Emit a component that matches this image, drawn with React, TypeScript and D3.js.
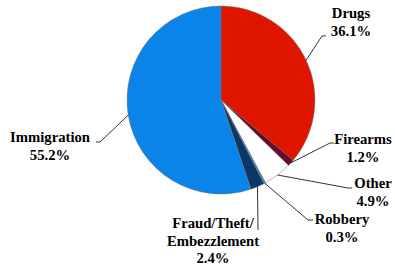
import React from "react";
import * as d3 from "d3";

const categories = ["Drugs", "Firearms", "Other", "Robbery", "Fraud/Theft/Embezzlement", "Immigration"];
const values = [36.1, 1.2, 4.9, 0.3, 2.4, 55.2];
const labelLines = [["Drugs", "36.1%"], ["Firearms", "1.2%"], ["Other", "4.9%"], ["Robbery", "0.3%"], ["Fraud/Theft/", "Embezzlement", "2.4%"], ["Immigration", "55.2%"]];
const colors = ["#e01500", "#6b0a2a", "#ffffff", "#3a8fc4", "#0a3668", "#0a84e8"];

// layout: elbow point, end of horizontal, text anchor x, first baseline
const layout = [
  { elbow: [322, 36], end: [326, 36], tx: 351, ty: 18 },
  { elbow: [330, 143], end: [334, 143], tx: 363, ty: 144 },
  { elbow: [348, 188], end: [352, 188], tx: 373, ty: 188 },
  { elbow: [308, 220], end: [313, 220], tx: 342, ty: 224 },
  { elbow: [258, 230], end: [258, 230], tx: 213, ty: 228 },
  { elbow: [100, 142], end: [96, 142], tx: 50, ty: 142 },
];

export default function App() {
  const cx = 221, cy = 100, r = 94;
  const pie = d3.pie<number>().sort(null).value((d) => d).startAngle(0).endAngle(2 * Math.PI);
  const arcs = pie(values);
  const arc = d3.arc<d3.PieArcDatum<number>>().innerRadius(0).outerRadius(r);
  const lineH = 17.5;
  return (
    <svg width={395} height={269} style={{ position: "absolute", left: 0, top: 0 }}>
      <rect width={395} height={269} fill="#fff" />
      <g transform={`translate(${cx},${cy})`}>
        {arcs.map((a, i) => (
          <path key={categories[i]} d={arc(a) || ""} fill={colors[i]} stroke="#707070" strokeWidth={0.5} />
        ))}
      </g>
      {arcs.map((a, i) => {
        const mid = (a.startAngle + a.endAngle) / 2;
        const px = cx + r * Math.sin(mid);
        const py = cy - r * Math.cos(mid);
        const L = layout[i];
        return (
          <polyline
            key={"l" + i}
            points={`${px},${py} ${L.elbow[0]},${L.elbow[1]} ${L.end[0]},${L.end[1]}`}
            fill="none"
            stroke="#000"
            strokeWidth={0.8}
          />
        );
      })}
      {labelLines.map((lines, i) => (
        <text
          key={"t" + i}
          x={layout[i].tx}
          y={layout[i].ty}
          textAnchor="middle"
          fontFamily="'Liberation Serif', 'Times New Roman', serif"
          fontWeight="bold"
          fontSize={14.7}
          fill="#000"
        >
          {lines.map((s, j) => (
            <tspan key={j} x={layout[i].tx} dy={j === 0 ? 0 : lineH}>
              {s}
            </tspan>
          ))}
        </text>
      ))}
    </svg>
  );
}
